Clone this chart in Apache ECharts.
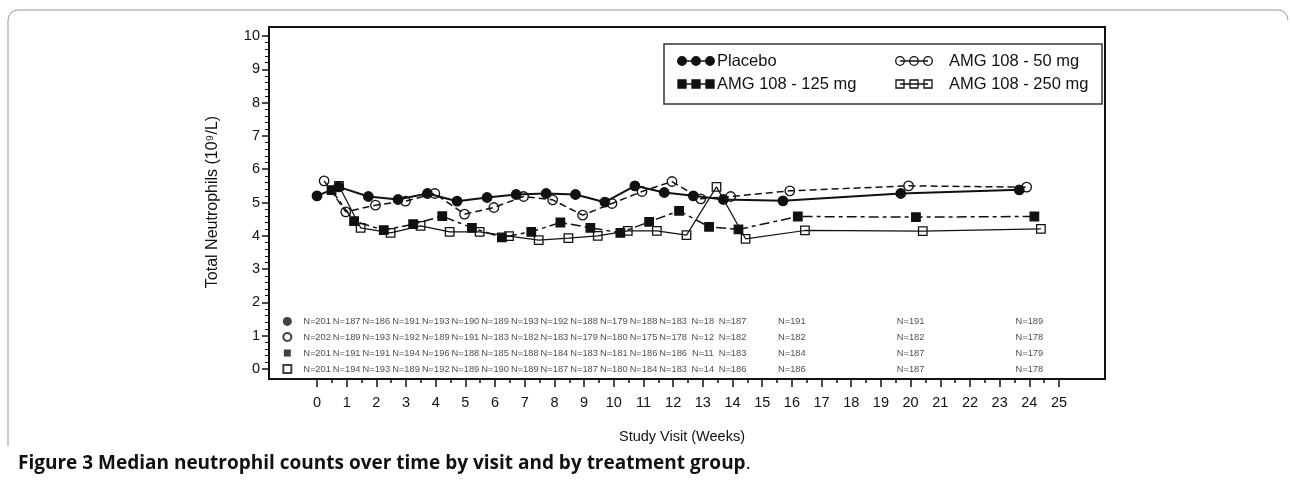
<!DOCTYPE html>
<html><head><meta charset="utf-8">
<script src="https://cdn.jsdelivr.net/npm/echarts@6/dist/echarts.min.js"></script>
<style>html,body{margin:0;padding:0;background:#fff}#c{width:1290px;height:483px}</style>
</head><body><div id="c"></div>
<script>
// ---- data ----
const visitWeeks = [0,1,2,3,4,5,6,7,8,9,10,11,12,13,14,16,20,24];
const xTickLabels = [0,1,2,3,4,5,6,7,8,9,10,11,12,13,14,15,16,17,18,19,20,21,22,23,24,25];
const seriesNames = ['Placebo','AMG 108 - 50 mg','AMG 108 - 125 mg','AMG 108 - 250 mg'];

const placeboX = [0,0.73,1.73,2.73,3.72,4.72,5.73,6.71,7.72,8.71,9.70,10.71,11.70,12.68,13.69,15.70,19.67,23.66];
const placeboY = [5.20,5.47,5.18,5.09,5.27,5.04,5.15,5.24,5.27,5.24,5.01,5.50,5.30,5.20,5.09,5.05,5.27,5.38];
const mg50X = [0.24,0.97,1.97,2.98,3.97,4.97,5.96,6.96,7.94,8.95,9.94,10.95,11.96,12.93,13.94,15.93,19.93,23.91];
const mg50Y = [5.65,4.72,4.92,5.04,5.27,4.65,4.85,5.18,5.08,4.62,4.97,5.33,5.63,5.11,5.18,5.35,5.50,5.46];
const mg125X = [0.49,1.25,2.25,3.24,4.22,5.22,6.23,7.22,8.20,9.21,10.22,11.19,12.20,13.21,14.20,16.20,20.18,24.17];
const mg125Y = [5.37,4.44,4.17,4.35,4.59,4.24,3.95,4.12,4.40,4.24,4.09,4.42,4.75,4.27,4.19,4.58,4.56,4.58];
const mg250X = [0.74,1.47,2.48,3.49,4.47,5.48,6.47,7.47,8.47,9.46,10.47,11.45,12.45,13.46,14.44,16.44,20.41,24.39];
const mg250Y = [5.50,4.24,4.09,4.30,4.12,4.12,3.99,3.87,3.93,4.00,4.15,4.15,4.02,5.47,3.91,4.16,4.14,4.21];

const nPlacebo = [201,187,186,191,193,190,189,193,192,188,179,188,183,18,187,191,191,189];
const n50 = [202,189,193,192,189,191,183,182,183,179,180,175,178,12,182,182,182,178];
const n125 = [201,191,191,194,196,188,185,188,184,183,181,186,186,11,183,184,187,179];
const n250 = [201,194,193,189,192,189,190,189,187,187,180,184,183,14,186,186,187,178];
const nRowY = [1.43,0.96,0.48,0.0];
const nRowMarkerX = -1;

// ---- styles ----
const FONT = 'Liberation Sans, Arial, sans-serif';
const INK = '#111';
const styles = [
  {symbol:'circle', size:9.5, fill:INK, lw:2, type:'solid'},
  {symbol:'circle', size:9.5, fill:'rgba(0,0,0,0)', lw:1.5, type:[7,4]},
  {symbol:'rect', size:8.5, fill:INK, lw:1.5, type:[10,4,4,4]},
  {symbol:'rect', size:8.5, fill:'rgba(0,0,0,0)', lw:1.2, type:'solid'}
];
const xs = [placeboX, mg50X, mg125X, mg250X];
const ys = [placeboY, mg50Y, mg125Y, mg250Y];
const ns = [nPlacebo, n50, n125, n250];

const series = [];
for (let i = 0; i < 4; i++) {
  const st = styles[i];
  series.push({
    name: seriesNames[i], type:'line', clip:false, z: 5 - i, xAxisIndex:0, yAxisIndex:0,
    data: xs[i].map((x,k)=>[x, ys[i][k]]),
    symbol: st.symbol, symbolSize: st.size, showSymbol:true,
    lineStyle:{color:INK, width:st.lw, type:st.type},
    itemStyle:{color:st.fill, borderColor:INK, borderWidth:1.3},
    emphasis:{disabled:true}, animation:false
  });
  series.push({
    type:'scatter', clip:false, xAxisIndex:0, yAxisIndex:0,
    symbol: st.symbol, symbolSize: i===0?9:(i===2?7:8),
    data:[[nRowMarkerX, nRowY[i]]],
    itemStyle:{color: st.fill, borderColor:INK, borderWidth: st.fill===INK?0:2},
    silent:true, animation:false
  });
  series.push({
    type:'scatter', clip:false, symbolSize:1, xAxisIndex:0, yAxisIndex:0,
    itemStyle:{color:'rgba(0,0,0,0)'},
    data: visitWeeks.map((w,k)=>[w, nRowY[i], ns[i][k]]),
    label:{show:true, position:'inside', color:'#222', fontFamily:FONT, fontSize:9.3,
      formatter: p => 'N=' + p.data[2]},
    silent:true, animation:false
  });
}

// ---- legend graphics ----
const legBox = {x:664, y:44, w:438, h:60};
const legItems = [
  {i:0, sx:682, y:61, tx:717}, {i:2, sx:682, y:84, tx:717},
  {i:1, sx:900, y:61, tx:949}, {i:3, sx:900, y:84, tx:949}
];
const legendEls = [{type:'rect', shape:{x:legBox.x, y:legBox.y, width:legBox.w, height:legBox.h},
  style:{fill:'#fff', stroke:'#333', lineWidth:1.5}}];
legItems.forEach(it=>{
  const st = styles[it.i];
  legendEls.push({type:'line', shape:{x1:it.sx, y1:it.y, x2:it.sx+28, y2:it.y}, style:{stroke:INK, lineWidth:1.5}});
  for (let k=0;k<3;k++){
    const cx = it.sx + k*14;
    if (st.symbol==='circle') legendEls.push({type:'circle', shape:{cx:cx, cy:it.y, r:4.3},
      style:{fill:st.fill, stroke:INK, lineWidth:1.3}});
    else legendEls.push({type:'rect', shape:{x:cx-4, y:it.y-4, width:8, height:8},
      style:{fill:st.fill, stroke:INK, lineWidth:1.3}});
  }
  legendEls.push({type:'text', x:it.tx, y:it.y, style:{text:seriesNames[it.i], fill:INK,
    font:'16.5px '+FONT, textVerticalAlign:'middle'}});
});

const hiddenX = {type:'value', min:0, max:25, show:false};
const hiddenY = {type:'value', min:0, max:10, show:false};

const chart = echarts.init(document.getElementById('c'), null, {renderer:'canvas'});
chart.setOption({
  animation:false,
  backgroundColor:'#fff',
  grid:[
    {left:317, right:231, top:36, bottom:114},
    {left:269, right:185, top:36, bottom:114},
    {left:317, right:231, top:27, bottom:104}
  ],
  xAxis:[
    Object.assign({gridIndex:0}, hiddenX),
    Object.assign({gridIndex:1}, hiddenX),
    {gridIndex:2, type:'value', min:0, max:25, interval:1,
      axisLine:{show:false},
      axisTick:{show:true, length:8, lineStyle:{color:INK, width:1.5}},
      minorTick:{show:true, splitNumber:2, length:4, lineStyle:{color:INK, width:1.5}},
      splitLine:{show:false}, minorSplitLine:{show:false},
      axisLabel:{margin:16, color:INK, fontFamily:FONT, fontSize:14.5,
        formatter: v => xTickLabels.indexOf(v) >= 0 ? String(v) : ''}
    }
  ],
  yAxis:[
    Object.assign({gridIndex:0}, hiddenY),
    {gridIndex:1, type:'value', min:0, max:10, interval:1,
      axisLine:{show:false},
      axisTick:{show:true, length:7, lineStyle:{color:INK, width:1.5}},
      minorTick:{show:true, splitNumber:5, length:4, lineStyle:{color:INK, width:1}},
      splitLine:{show:false}, minorSplitLine:{show:false},
      axisLabel:{margin:9, color:INK, fontFamily:FONT, fontSize:14.5}
    },
    Object.assign({gridIndex:2}, hiddenY)
  ],
  series: series,
  graphic:[
    {type:'line', shape:{x1:8, y1:20, x2:8, y2:446}, style:{stroke:'#999', lineWidth:1}},
    {type:'arc', shape:{cx:18, cy:20, r:10, startAngle:Math.PI, endAngle:1.5*Math.PI}, style:{stroke:'#999', lineWidth:1, fill:null}},
    {type:'line', shape:{x1:18, y1:10, x2:1278, y2:10}, style:{stroke:'#999', lineWidth:1}},
    {type:'arc', shape:{cx:1278, cy:20, r:10, startAngle:1.5*Math.PI, endAngle:2*Math.PI}, style:{stroke:'#999', lineWidth:1, fill:null}},
    {type:'rect', z:100, shape:{x:269, y:27, width:836, height:352}, style:{fill:null, stroke:INK, lineWidth:2}},
    {type:'group', z:101, children: legendEls},
    {type:'text', z:100, x:213, y:202, rotation:Math.PI/2,
      style:{text:'Total Neutrophils (10\u2079/L)', fill:INK, font:'16px '+FONT, textAlign:'center', textVerticalAlign:'middle'}},
    {type:'text', z:100, x:682, y:437,
      style:{text:'Study Visit (Weeks)', fill:INK, font:'14.5px '+FONT, textAlign:'center', textVerticalAlign:'middle'}},
    {type:'text', z:100, x:18, y:464,
      style:{text:'{b|Figure 3 Median neutrophil counts over time by visit and by treatment group}.', fill:'#111',
        font:'19px Open Sans, sans-serif', textVerticalAlign:'middle',
        rich:{b:{fontWeight:'bold', fontFamily:'Open Sans', fontSize:19, fill:'#111'}}}}
  ]
});
</script></body></html>
